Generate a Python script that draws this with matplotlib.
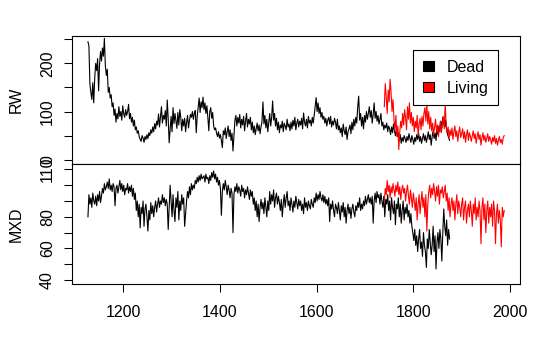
import matplotlib
matplotlib.use("Agg")
import matplotlib.pyplot as plt
import numpy as np
from matplotlib.patches import Patch

plt.rcParams['font.family'] = ['Liberation Sans', 'DejaVu Sans']
plt.rcParams['font.size'] = 11.5

# Years (every second year)
dead_years = np.arange(1127, 1876, 2)
living_years = np.arange(1740, 1989, 2)

# Ring width, dead trees
dead_rw = [
    245, 236, 158, 140, 125, 160, 118, 170, 200, 185,
    210, 143, 198, 225, 205, 232, 215, 252, 195, 175,
    188, 140, 150, 128, 135, 110, 118, 92, 105, 78,
    96, 85, 110, 90, 100, 82, 112, 95, 88, 104,
    92, 100, 115, 85, 96, 78, 88, 70, 82, 62,
    68, 55, 60, 48, 42, 38, 50, 45, 36, 48,
    42, 52, 44, 56, 50, 62, 55, 68, 58, 75,
    64, 80, 72, 95, 68, 88, 110, 76, 92, 84,
    102, 70, 124, 85, 35, 62, 90, 58, 108, 75,
    96, 80, 65, 98, 72, 104, 88, 60, 84, 70,
    86, 58, 78, 92, 66, 82, 94, 88, 100, 84,
    96, 102, 56, 90, 110, 128, 98, 120, 108, 130,
    104, 118, 96, 112, 88, 60, 100, 108, 86, 98,
    70, 62, 66, 55, 48, 58, 45, 52, 40, 25,
    60, 52, 66, 44, 58, 70, 48, 62, 40, 55,
    18, 50, 82, 92, 70, 88, 76, 94, 66, 84,
    72, 90, 60, 80, 96, 68, 84, 74, 88, 62,
    78, 56, 70, 52, 64, 76, 60, 72, 54, 68,
    80, 120, 74, 92, 66, 84, 58, 78, 96, 70,
    88, 122, 82, 96, 70, 86, 62, 78, 56, 72,
    66, 80, 58, 76, 70, 62, 84, 68, 74, 60,
    78, 64, 82, 70, 88, 62, 76, 84, 68, 80,
    72, 86, 64, 97, 78, 70, 84, 66, 90, 76,
    82, 70, 88, 76, 92, 110, 129, 100, 118, 96,
    108, 88, 98, 84, 90, 76, 86, 70, 82, 88,
    74, 90, 68, 80, 72, 86, 78, 64, 84, 62,
    70, 56, 66, 48, 74, 60, 52, 68, 42, 58,
    64, 72, 54, 78, 62, 84, 70, 88, 76, 110,
    132, 82, 96, 70, 88, 64, 92, 78, 100, 84,
    96, 110, 88, 102, 76, 94, 118, 86, 100, 80,
    92, 74, 84, 96, 70, 78, 62, 72, 66, 76,
    58, 70, 64, 52, 68, 56, 74, 60, 50, 62,
    48, 56, 40, 52, 34, 46, 38, 50, 44, 36,
    48, 40, 54, 44, 36, 50, 42, 32, 46, 38,
    52, 42, 56, 38, 48, 34, 44, 54, 40, 50,
    36, 46, 58, 42, 52, 30, 48, 60, 44, 56,
    40, 62, 52, 70, 58, 80, 66, 88, 74, 68,
    82, 60, 52, 46, 40,
]

# Ring width, living trees
living_rw = [
    110, 158, 130, 96, 145, 120, 167, 140, 100, 125,
    84, 60, 92, 48, 70, 21, 58, 80, 66, 96,
    72, 104, 88, 62, 110, 84, 118, 76, 98, 70,
    88, 58, 80, 66, 92, 50, 74, 86, 62, 90,
    70, 96, 108, 80, 115, 74, 100, 64, 88, 60,
    76, 52, 68, 84, 58, 72, 48, 66, 80, 56,
    74, 90, 64, 118, 70, 56, 68, 44, 62, 50,
    66, 42, 58, 70, 48, 60, 38, 56, 68, 46,
    54, 64, 44, 58, 36, 52, 62, 40, 56, 48,
    38, 50, 60, 44, 54, 34, 48, 58, 42, 52,
    30, 46, 56, 40, 50, 36, 44, 54, 38, 48,
    42, 32, 46, 38, 50, 34, 44, 30, 40, 48,
    36, 42, 32, 46, 50,
]

# Maximum latewood density, dead trees
dead_mxd = [
    80, 94, 88, 92, 86, 95, 90, 88, 93, 87,
    94, 90, 96, 89, 93, 98, 95, 101, 97, 99,
    102, 98, 104, 97, 100, 96, 101, 99, 87, 98,
    100, 95, 99, 103, 97, 101, 96, 100, 94, 98,
    97, 101, 95, 99, 96, 100, 93, 98, 91, 95,
    84, 90, 80, 88, 73, 86, 82, 90, 74, 85,
    88, 80, 71, 84, 78, 89, 82, 87, 80, 86,
    90, 83, 88, 92, 86, 90, 88, 94, 89, 92,
    87, 91, 88, 72, 86, 100, 90, 80, 94, 84,
    77, 92, 86, 96, 78, 90, 84, 94, 88, 92,
    74, 82, 90, 96, 92, 99, 94, 101, 97, 100,
    98, 103, 101, 105, 102, 106, 103, 107, 104, 105,
    106, 102, 107, 104, 105, 101, 106, 103, 108, 105,
    109, 104, 107, 102, 105, 100, 103, 98, 81, 96,
    101, 97, 103, 99, 94, 100, 97, 92, 98, 95,
    70, 94, 99, 96, 101, 95, 99, 97, 93, 100,
    96, 98, 92, 97, 94, 99, 95, 91, 97, 93,
    96, 88, 92, 84, 90, 80, 88, 77, 86, 91,
    85, 89, 82, 92, 86, 80, 90, 84, 96, 88,
    94, 90, 97, 86, 92, 95, 88, 93, 89, 84,
    91, 80, 88, 94, 86, 92, 96, 87, 90, 84,
    92, 88, 83, 90, 86, 93, 89, 85, 91, 87,
    90, 84, 88, 82, 92, 86, 89, 84, 90, 87,
    85, 91, 88, 86, 92, 89, 95, 90, 94, 91,
    96, 92, 90, 94, 89, 93, 88, 91, 87, 92,
    77, 88, 85, 90, 84, 80, 88, 86, 82, 89,
    84, 78, 87, 83, 89, 80, 86, 76, 84, 88,
    82, 86, 79, 85, 88, 83, 80, 87, 84, 89,
    86, 92, 84, 88, 85, 90, 87, 93, 88, 91,
    94, 89, 92, 88, 93, 76, 90, 95, 89, 96,
    92, 94, 88, 95, 90, 86, 93, 80, 91, 88,
    94, 84, 90, 78, 92, 86, 82, 90, 75, 88,
    85, 92, 80, 88, 76, 84, 90, 78, 86, 82,
    88, 80, 84, 76, 82, 74, 70, 65, 72, 62,
    68, 58, 66, 72, 60, 64, 55, 70, 62, 58,
    48, 66, 60, 72, 64, 56, 62, 74, 58, 68,
    47, 64, 70, 60, 72, 66, 52, 70, 85, 74,
    68, 78, 62, 72, 66,
]

# Maximum latewood density, living trees
living_mxd = [
    90, 98, 94, 103, 96, 100, 92, 99, 95, 101,
    97, 93, 100, 96, 102, 94, 99, 91, 97, 100,
    95, 98, 90, 96, 100, 93, 88, 97, 92, 86,
    95, 90, 84, 92, 78, 88, 94, 82, 90, 96,
    86, 92, 80, 94, 71, 88, 96, 100, 92, 98,
    94, 101, 96, 90, 99, 93, 100, 88, 97, 95,
    99, 92, 96, 100, 90, 95, 84, 92, 80, 88,
    92, 84, 90, 78, 88, 94, 82, 90, 86, 80,
    88, 92, 78, 86, 90, 76, 84, 88, 80, 90,
    84, 74, 88, 82, 92, 78, 86, 80, 90, 84,
    63, 86, 92, 78, 88, 70, 84, 90, 76, 86,
    80, 88, 74, 90, 84, 63, 82, 88, 76, 84,
    78, 61, 86, 80, 84,
]

rw_ticks = [0, 50, 100, 150, 200, 250]
rw_labels = ['0', '', '100', '', '200', '']
mxd_ticks = [40, 50, 60, 70, 80, 90, 100, 110]
mxd_labels = ['40', '', '60', '', '80', '', '', '110']
year_ticks = [1200, 1400, 1600, 1800, 2000]

fig = plt.figure(figsize=(5.56, 3.55), dpi=100)
ax1 = fig.add_axes([72 / 556, 1 - 164 / 355, 448 / 556, 128 / 355])
ax2 = fig.add_axes([72 / 556, 1 - 284 / 355, 448 / 556, 120 / 355])

# Top panel: ring width
ax1.plot(dead_years, dead_rw, color='black', lw=0.8)
ax1.plot(living_years, living_rw, color='red', lw=0.8)
ax1.set_ylim(-9, 257)
ax1.set_yticks(rw_ticks)
ax1.set_yticklabels(rw_labels)
ax1.set_ylabel('RW')

# Bottom panel: max density
ax2.plot(dead_years, dead_mxd, color='black', lw=0.8)
ax2.plot(living_years, living_mxd, color='red', lw=0.8)
ax2.set_ylim(37.5, 113.4)
ax2.set_yticks(mxd_ticks)
ax2.set_yticklabels(mxd_labels)
ax2.set_ylabel('MXD')

for ax in (ax1, ax2):
    ax.set_xlim(1094, 2020.7)
    ax.set_xticks(year_ticks)
    ax.tick_params(direction='out', length=5.8, width=0.75, color='black')
    ax.tick_params(axis='y', pad=6.4)
    ax.tick_params(axis='x', pad=9.0)
    for lab in ax.get_yticklabels():
        lab.set_rotation(90)
        lab.set_va('center')
    for s in ax.spines.values():
        s.set_linewidth(0.8)
    ax.yaxis.set_label_coords(-0.107, 0.5)

ax1.tick_params(axis='x', labelbottom=False)

handles = [Patch(facecolor='black', edgecolor='black', lw=0.8),
           Patch(facecolor='red', edgecolor='black', lw=0.8)]
leg = ax1.legend(handles, ['Dead', 'Living'], loc='upper right',
                 bbox_to_anchor=(0.951, 0.891), borderaxespad=0,
                 fancybox=False, framealpha=1, edgecolor='black',
                 handlelength=0.7, handleheight=0.62, handletextpad=0.8,
                 borderpad=0.6, labelspacing=0.38)
leg.get_frame().set_linewidth(0.8)

fig.savefig('out.png', dpi=100)
